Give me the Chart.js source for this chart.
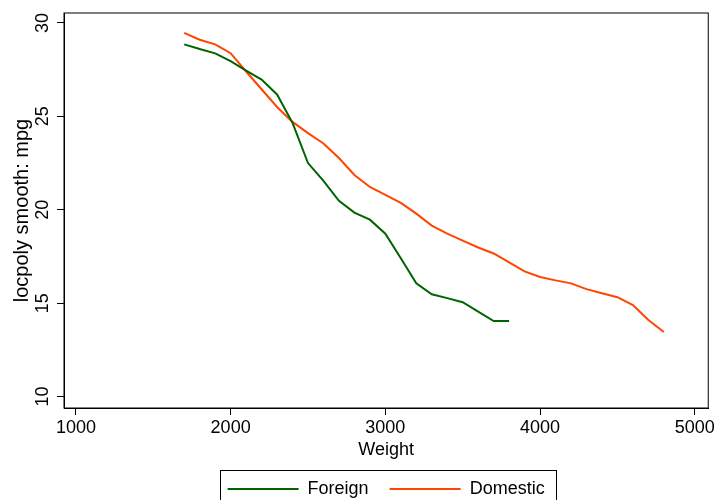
<!DOCTYPE html>
<html>
<head>
<meta charset="utf-8">
<script src="https://cdn.jsdelivr.net/npm/chart.js@4/dist/chart.umd.min.js"></script>
<style>
  body { margin: 0; background: #fff; }
</style>
</head>
<body>
<canvas id="smoothChart" width="719" height="500"></canvas>
<script>
// Weight grid of the smoother and the smoothed mpg
const foreignWeight = [1700, 1800, 1900, 2000, 2100, 2200, 2300, 2400, 2500, 2600, 2700,
                       2800, 2900, 3000, 3100, 3200, 3300, 3400, 3500, 3600, 3700, 3800];
const foreignMpg = [28.85, 28.6, 28.37, 27.95, 27.45, 26.97, 26.17, 24.65, 22.5, 21.55, 20.48,
                    19.85, 19.47, 18.72, 17.4, 16.06, 15.48, 15.27, 15.05, 14.55, 14.04, 14.04];

const domesticWeight = [1700, 1800, 1900, 2000, 2100, 2200, 2300, 2400, 2500, 2600, 2700,
                        2800, 2900, 3000, 3100, 3200, 3300, 3400, 3500, 3600, 3700, 3800,
                        3900, 4000, 4100, 4200, 4300, 4400, 4500, 4600, 4700, 4800];
const domesticMpg = [29.47, 29.1, 28.85, 28.38, 27.4, 26.45, 25.5, 24.7, 24.1, 23.55, 22.77,
                     21.86, 21.22, 20.8, 20.37, 19.79, 19.15, 18.72, 18.35, 17.98, 17.66, 17.18,
                     16.7, 16.4, 16.22, 16.06, 15.75, 15.53, 15.32, 14.9, 14.1, 13.46];

const xTicks = [1000, 2000, 3000, 4000, 5000];
const yTicks = [10, 15, 20, 25, 30];

function toPoints(xs, ys) {
    return xs.map((x, i) => ({ x: x, y: ys[i] }));
}

// box round the plot region and round the legend, Stata style
const framePlugin = {
    id: 'frame',
    afterDraw(chart) {
        const ctx = chart.ctx;
        const a = chart.chartArea;
        ctx.save();
        ctx.strokeStyle = '#000';
        ctx.lineWidth = 1;
        ctx.strokeRect(a.left, a.top, a.right - a.left, a.bottom - a.top);

        const boxes = chart.legend.legendHitBoxes;
        if (boxes && boxes.length) {
            const first = boxes[0];
            const last = boxes[boxes.length - 1];
            const left = Math.round(first.left - 8) + 0.5;
            const right = Math.round(last.left + last.width + 11) + 0.5;
            const top = Math.round(first.top - 10) + 0.5;
            ctx.strokeRect(left, top, right - left, 60);
        }
        ctx.restore();
    }
};

Chart.defaults.font.family = "'Liberation Sans', Arial, sans-serif";
Chart.defaults.color = '#000';

const ctx = document.getElementById('smoothChart').getContext('2d');
new Chart(ctx, {
    type: 'line',
    data: {
        datasets: [{
            label: 'Foreign',
            data: toPoints(foreignWeight, foreignMpg),
            borderColor: '#006400',
            backgroundColor: '#006400',
            borderWidth: 2,
            pointRadius: 0,
            tension: 0
        }, {
            label: 'Domestic',
            data: toPoints(domesticWeight, domesticMpg),
            borderColor: '#ff4500',
            backgroundColor: '#ff4500',
            borderWidth: 2,
            pointRadius: 0,
            tension: 0
        }]
    },
    options: {
        responsive: false,
        animation: false,
        layout: { padding: { top: 10, right: 9, bottom: 0, left: 0 } },
        plugins: {
            tooltip: { enabled: false },
            legend: {
                position: 'bottom',
                fullSize: false,
                maxHeight: 41,
                labels: {
                    boxWidth: 71,
                    boxHeight: 0,
                    padding: 21,
                    color: '#000',
                    font: { size: 18 }
                }
            }
        },
        scales: {
            x: {
                type: 'linear',
                min: 923,
                max: 5087,
                afterBuildTicks: scale => { scale.ticks = xTicks.map(v => ({ value: v })); },
                grid: { drawOnChartArea: false, tickLength: 7, color: '#000' },
                border: { display: true, color: '#000' },
                ticks: {
                    autoSkip: false,
                    maxRotation: 0,
                    padding: 4,
                    color: '#000',
                    font: { size: 18, lineHeight: 1 },
                    callback: v => String(v)
                },
                title: {
                    display: true,
                    text: 'Weight',
                    color: '#000',
                    font: { size: 18, lineHeight: 1 },
                    padding: { top: 0, bottom: 0 }
                }
            },
            y: {
                min: 9.39,
                max: 30.53,
                afterBuildTicks: scale => { scale.ticks = yTicks.map(v => ({ value: v })); },
                grid: { drawOnChartArea: false, tickLength: 7, color: '#000' },
                border: { display: true, color: '#000' },
                ticks: {
                    minRotation: 90,
                    maxRotation: 90,
                    crossAlign: 'center',
                    padding: 4,
                    color: '#000',
                    font: { size: 18, lineHeight: 1 },
                    callback: v => String(v)
                },
                title: {
                    display: true,
                    text: 'locpoly smooth: mpg',
                    color: '#000',
                    font: { size: 20, lineHeight: 1 },
                    padding: { top: 12, bottom: -1 }
                }
            }
        }
    },
    plugins: [framePlugin]
});
</script>
</body>
</html>
